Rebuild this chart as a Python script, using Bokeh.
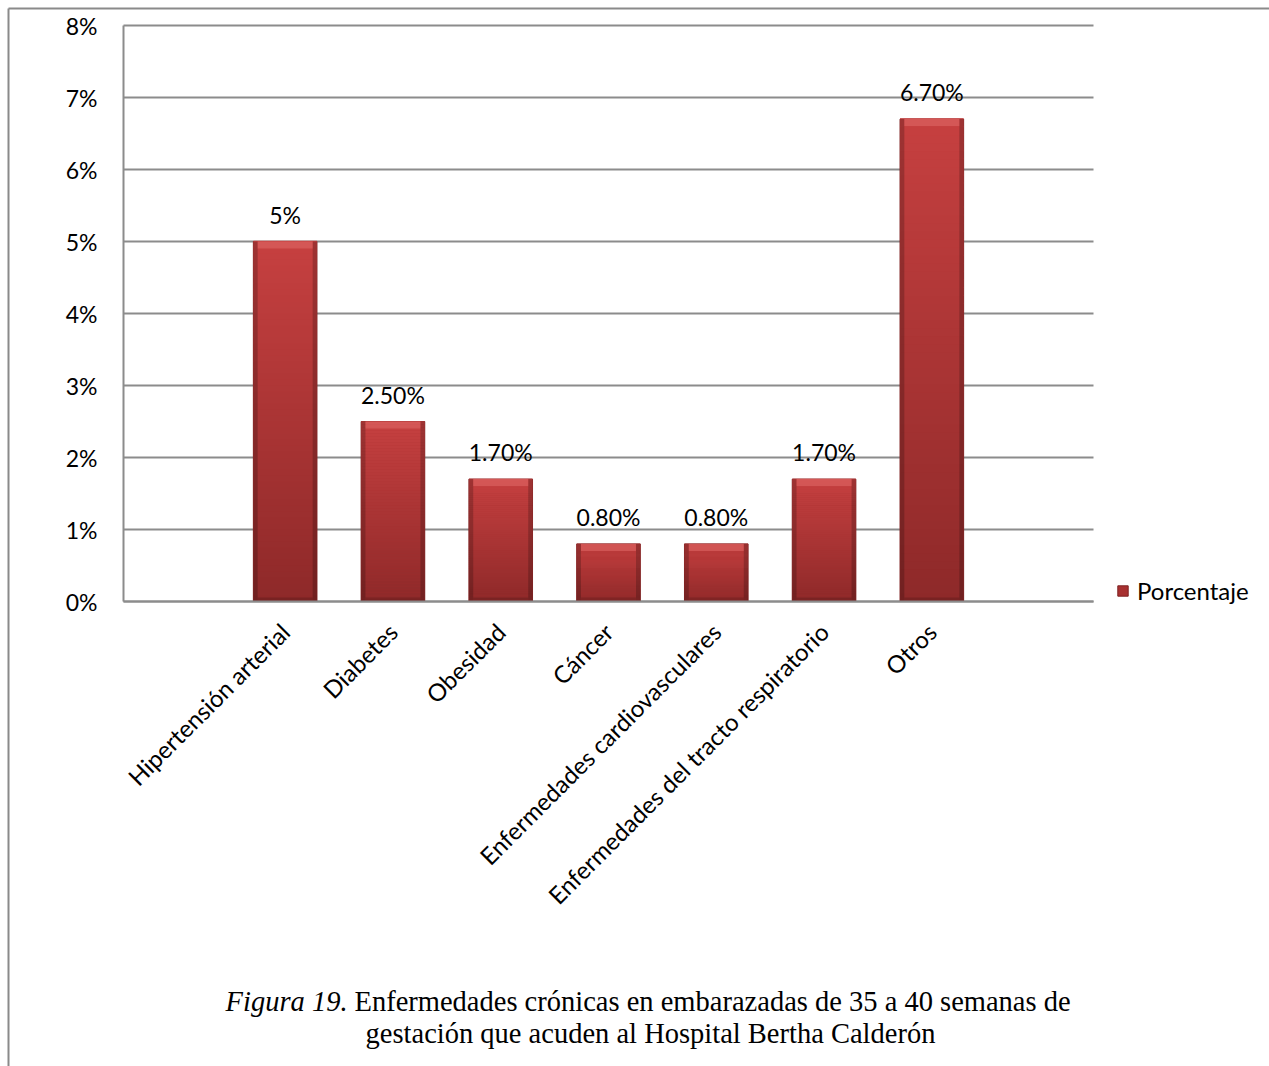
import numpy as np
from math import pi
from bokeh.plotting import figure
from bokeh.models import (ColumnDataSource, Range1d, FixedTicker,
                          NumeralTickFormatter, LabelSet, Legend, LegendItem)
from bokeh.transform import dodge
from bokeh.core.properties import value
from bokeh.embed import file_html
from bokeh.resources import INLINE

# ---------------- data ----------------
categories = ["Hipertensión arterial", "Diabetes", "Obesidad", "Cáncer",
              "Enfermedades cardiovasculares", "Enfermedades del tracto respiratorio",
              "Otros"]
porcentaje = [0.05, 0.025, 0.017, 0.008, 0.008, 0.017, 0.067]
value_labels = ["5%", "2.50%", "1.70%", "0.80%", "0.80%", "1.70%", "6.70%"]
y_ticks = [0.0, 0.01, 0.02, 0.03, 0.04, 0.05, 0.06, 0.07, 0.08]
series_name = "Porcentaje"
caption_italic = "Figura 19."
caption_line1 = "Enfermedades crónicas en embarazadas de 35 a 40 semanas de"
caption_line2 = "gestación que acuden al Hospital Bertha Calderón"

# category slots: one empty slot on each side (as in the original chart)
positions = list(range(1, len(categories) + 1))
X_LO, X_HI = -0.5, len(categories) + 1.5
Y_MAX = 0.08

# ---------------- layout constants (page pixels) ----------------
W, H = 1269, 1066
FRAME_L, FRAME_R, FRAME_T, FRAME_B = 123, 1093, 25, 601
SX = (FRAME_R - FRAME_L) / (X_HI - X_LO)     # px per x unit
SY = (FRAME_B - FRAME_T) / Y_MAX             # px per y unit
x_start = X_LO - FRAME_L / SX
x_end = X_HI + (W - FRAME_R) / SX
y_end = Y_MAX + FRAME_T / SY
y_start = -(H - FRAME_B) / SY


def page_x(px):
    return x_start + px / SX


def page_y(py):
    return y_end - py / SY


BAR_W = 0.59
FONT = "Lato"
SERIF = "Liberation Serif"
GRID = "#8C8C8C"

p = figure(x_range=Range1d(x_start, x_end), y_range=Range1d(y_start, y_end),
           width=W, height=H, title=None,
           output_backend="svg", toolbar_location=None,
           min_border=0, min_border_left=0, min_border_right=0,
           min_border_top=0, min_border_bottom=0)
p.outline_line_color = None
p.background_fill_color = "white"
p.border_fill_color = "white"
p.xgrid.visible = False
p.ygrid.visible = False

# page frame lines (left + top)
p.segment(x0=[page_x(8), page_x(8)], y0=[page_y(8), page_y(8)],
          x1=[page_x(8), page_x(W + 5)], y1=[page_y(H + 5), page_y(8)],
          line_color="#8A8A8A", line_width=2)

# horizontal gridlines from the tick values
p.segment(x0=[X_LO] * len(y_ticks), x1=[X_HI] * len(y_ticks), y0=y_ticks, y1=y_ticks,
          line_color=GRID, line_width=1.8)

# axes drawn at fixed locations inside the canvas
for ax in (p.xaxis, p.yaxis):
    ax.axis_line_color = GRID
    ax.axis_line_width = 2
    ax.major_tick_line_color = None
    ax.minor_tick_line_color = None
    ax.major_label_text_font = FONT
    ax.major_label_text_color = "black"
p.yaxis.fixed_location = X_LO
p.yaxis.bounds = (0, Y_MAX)
p.yaxis.ticker = FixedTicker(ticks=y_ticks)
p.yaxis.formatter = NumeralTickFormatter(format="0%")
p.yaxis.major_label_standoff = 20
p.yaxis.major_label_text_font_size = "23px"

p.xaxis.fixed_location = 0
p.xaxis.bounds = (X_LO, X_HI)
p.xaxis.ticker = FixedTicker(ticks=positions)
p.xaxis.major_label_overrides = {pos: name for pos, name in zip(positions, categories)}
p.xaxis.major_label_orientation = pi / 4
p.xaxis.major_label_standoff = 20
p.xaxis.major_label_text_font_size = "24px"

# ---------------- bars ----------------
src = ColumnDataSource(dict(x=positions, val=porcentaje, lab=value_labels))
base = p.vbar(x="x", top="val", width=BAR_W, source=src,
              fill_color="#A83131", line_color="#7E2222", line_width=1)

# vertical gradient (light top -> dark bottom) built from each bar's value
N = 60
top_rgb = np.array([0xC6, 0x40, 0x40], dtype=float)
bot_rgb = np.array([0x8E, 0x29, 0x29], dtype=float)
gx, gb, gt, gc = [], [], [], []
for xpos, v in zip(positions, porcentaje):
    for i in range(N):
        f = (i + 0.5) / N
        rgb = bot_rgb + (top_rgb - bot_rgb) * f
        gx.append(xpos)
        gb.append(v * i / N)
        gt.append(v * (i + 1) / N + v * 0.002)
        gc.append("#%02x%02x%02x" % tuple(int(round(k)) for k in rgb))
p.vbar(x=gx, bottom=gb, top=gt, width=BAR_W, fill_color=gc, line_color=None)

# bevel: dark side edges, light top edge, dark bottom edge
edge_src = ColumnDataSource(dict(x=positions, val=porcentaje,
                                 top_lo=[v - 7 / SY for v in porcentaje],
                                 bot_hi=[4 / SY for v in porcentaje]))
EW = 0.04
for off in (-(BAR_W - EW) / 2, (BAR_W - EW) / 2):
    p.vbar(x=dodge("x", off), top="val", width=EW,
           source=edge_src, fill_color="black", fill_alpha=0.2, line_color=None)
p.vbar(x="x", bottom="top_lo", top="val", width=BAR_W - 2 * EW, source=edge_src,
       fill_color="#E06A68", fill_alpha=0.55, line_color=None)
p.vbar(x="x", bottom=0, top="bot_hi", width=BAR_W - 2 * EW, source=edge_src,
       fill_color="black", fill_alpha=0.15, line_color=None)

# value labels
labels = LabelSet(x="x", y="val", text="lab", source=src, text_align="center",
                  text_baseline="bottom", y_offset=13, text_font=value(FONT),
                  text_font_size=value("23px"), text_color="black")
p.add_layout(labels)

# legend
legend = Legend(items=[LegendItem(label=series_name, renderers=[base])],
                location=(1116, H - 592 - 13), orientation="vertical",
                glyph_width=13, glyph_height=13, label_standoff=8,
                padding=0, margin=0, spacing=0,
                border_line_color=None, background_fill_alpha=0,
                label_text_font=FONT, label_text_font_size="24px",
                label_text_color="black")
p.add_layout(legend)

# ---------------- caption ----------------
CAP_SIZE = "28.5px"
p.text(x=[page_x(347)], y=[page_y(1001)], text=[caption_italic], text_align="right",
       text_baseline="alphabetic", text_font=value(SERIF), text_font_style="italic",
       text_font_size=CAP_SIZE, text_color="black")
p.text(x=[page_x(354)], y=[page_y(1001)], text=[caption_line1], text_align="left",
       text_baseline="alphabetic", text_font=value(SERIF),
       text_font_size=CAP_SIZE, text_color="black")
p.text(x=[page_x(650)], y=[page_y(1033)], text=[caption_line2], text_align="center",
       text_baseline="alphabetic", text_font=value(SERIF),
       text_font_size=CAP_SIZE, text_color="black")

open("out.html", "w").write(file_html(p, INLINE))
